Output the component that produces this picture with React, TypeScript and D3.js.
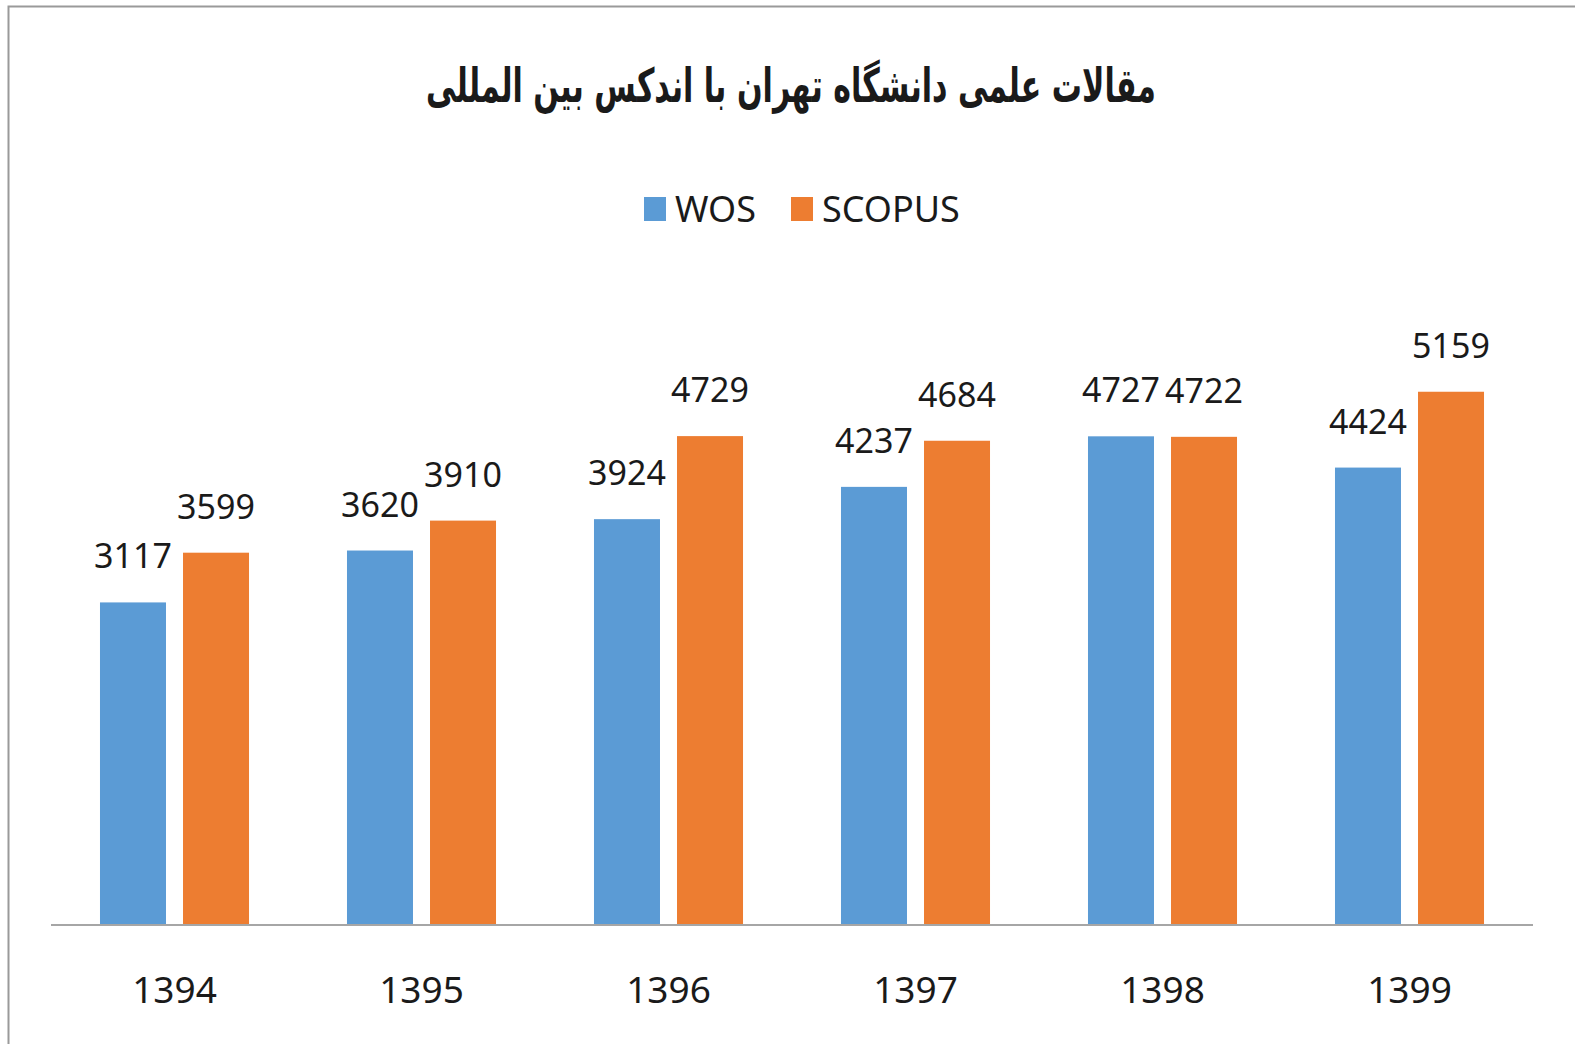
import React, { useRef, useEffect } from 'react';
import * as d3 from 'd3';

const years = ['1394', '1395', '1396', '1397', '1398', '1399'];
const wos = [3117, 3620, 3924, 4237, 4727, 4424];
const scopus = [3599, 3910, 4729, 4684, 4722, 5159];
const seriesNames = ['WOS', 'SCOPUS'];
const colors = ['#5B9BD5', '#ED7D31'];
const title = 'مقالات علمی دانشگاه تهران با اندکس بین المللی';

export default function App() {
  const ref = useRef<SVGSVGElement>(null);

  useEffect(() => {
    const svg = d3.select(ref.current);
    svg.selectAll('*').remove();

    const left = 51, right = 1533, baseY = 924;
    const font = '"Noto Sans", "DejaVu Sans", sans-serif';

    // chart frame, only left/top edges visible in the picture
    svg.append('rect')
      .attr('x', 8.5).attr('y', 6.5)
      .attr('width', 1700).attr('height', 1200)
      .attr('fill', '#fff')
      .attr('stroke', '#9a9a9a')
      .attr('stroke-width', 2);

    svg.append('text')
      .attr('x', 791).attr('y', 102)
      .attr('text-anchor', 'middle')
      .attr('direction', 'rtl')
      .attr('font-family', '"DejaVu Sans", sans-serif')
      .attr('font-weight', 'bold')
      .attr('font-size', 47)
      .attr('textLength', 730)
      .attr('lengthAdjust', 'spacingAndGlyphs')
      .attr('fill', '#1a1a1a')
      .text(title);

    // legend
    const legendItems = [
      { name: seriesNames[0], x: 644, color: colors[0] },
      { name: seriesNames[1], x: 791, color: colors[1] },
    ];
    legendItems.forEach(it => {
      svg.append('rect')
        .attr('x', it.x).attr('y', 197)
        .attr('width', 22).attr('height', 24)
        .attr('fill', it.color);
      svg.append('text')
        .attr('x', it.x + 31).attr('y', 222)
        .attr('font-family', font)
        .attr('font-size', 36)
        .attr('fill', '#1a1a1a')
        .text(it.name);
    });

    const x0 = d3.scaleBand().domain(years).range([left, right]);
    const x1 = d3.scaleBand()
      .domain(seriesNames)
      .range([0, x0.bandwidth()])
      .paddingInner(0.205)
      .paddingOuter(0.59);
    const y = d3.scaleLinear().domain([0, 6000]).range([baseY, baseY - 6000 * 0.10317]);

    const rows = years.map((yr, i) => ({ year: yr, values: [wos[i], scopus[i]] }));

    const groups = svg.append('g')
      .selectAll('g')
      .data(rows)
      .enter()
      .append('g')
      .attr('transform', d => `translate(${x0(d.year)},0)`);

    groups.selectAll('rect')
      .data(d => d.values.map((v, k) => ({ key: seriesNames[k], v, k })))
      .enter()
      .append('rect')
      .attr('x', d => x1(d.key)!)
      .attr('y', d => y(d.v))
      .attr('width', x1.bandwidth())
      .attr('height', d => baseY - y(d.v))
      .attr('fill', d => colors[d.k]);

    groups.selectAll('text.label')
      .data(d => d.values.map((v, k) => ({ key: seriesNames[k], v, k })))
      .enter()
      .append('text')
      .attr('class', 'label')
      .attr('x', d => x1(d.key)! + x1.bandwidth() / 2)
      .attr('y', d => y(d.v) - 34)
      .attr('text-anchor', 'middle')
      .attr('font-family', font)
      .attr('font-size', 34)
      .attr('fill', '#1a1a1a')
      .text(d => d.v);

    // category axis
    svg.append('line')
      .attr('x1', left).attr('x2', right)
      .attr('y1', baseY + 1).attr('y2', baseY + 1)
      .attr('stroke', '#a6a6a6')
      .attr('stroke-width', 2);

    svg.append('g')
      .selectAll('text')
      .data(years)
      .enter()
      .append('text')
      .attr('x', d => x0(d)! + x0.bandwidth() / 2)
      .attr('y', 1003)
      .attr('text-anchor', 'middle')
      .attr('font-family', font)
      .attr('font-size', 37)
      .attr('fill', '#1a1a1a')
      .text(d => d);
  }, []);

  return (
    <svg ref={ref} width={1575} height={1044}
      style={{ position: 'absolute', left: 0, top: 0, display: 'block', background: '#fff' }} />
  );
}
